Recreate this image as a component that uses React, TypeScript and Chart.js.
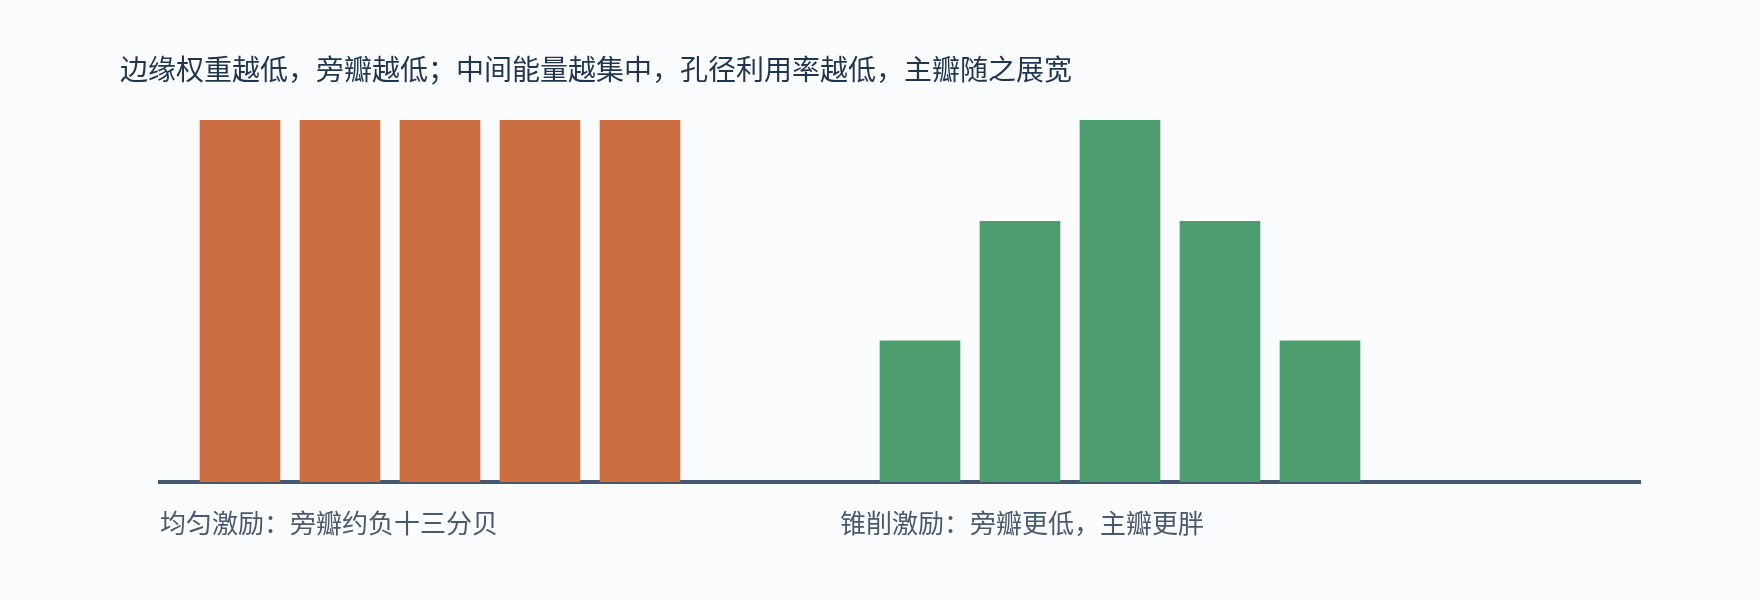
import { useEffect, useRef } from "react";
import { Chart, registerables } from "chart.js";

Chart.register(...registerables);

const title = "边缘权重越低，旁瓣越低；中间能量越集中，孔径利用率越低，主瓣随之展宽";

// element positions (in element spacing units) and weights
const uniformPos = [1, 2, 3, 4, 5];
const uniformWeights = [1, 1, 1, 1, 1];
const taperPos = [7.8, 8.8, 9.8, 10.8, 11.8];
const taperWeights = [0.39, 0.72, 1, 0.72, 0.39];

// group captions sit under the start of each group
const groupLabels = ["均匀激励：旁瓣约负十三分贝", "锥削激励：旁瓣更低，主瓣更胖"];
const groupLabelPos = [0.2, 7.0];

const FONT = '"Noto Sans CJK SC", "Noto Sans", sans-serif';

export default function App() {
  const chartRef = useRef<HTMLCanvasElement>(null);
  const chartInstance = useRef<Chart | null>(null);

  useEffect(() => {
    document.body.style.margin = "0";
    document.body.style.background = "#fbfcfe";
    if (!chartRef.current) return;

    if (chartInstance.current) {
      chartInstance.current.destroy();
    }

    const ctx = chartRef.current.getContext("2d");
    if (!ctx) return;

    chartInstance.current = new Chart(ctx, {
      type: "bar",
      data: {
        datasets: [
          {
            label: "uniform",
            data: uniformPos.map((x, i) => ({ x, y: uniformWeights[i] })),
            backgroundColor: "#cb6f40",
            borderWidth: 0,
            barThickness: 80,
            grouped: false,
          },
          {
            label: "taper",
            data: taperPos.map((x, i) => ({ x, y: taperWeights[i] })),
            backgroundColor: "#4e9d6f",
            borderWidth: 0,
            barThickness: 80,
            grouped: false,
          },
        ],
      },
      options: {
        responsive: true,
        maintainAspectRatio: false,
        animation: false,
        layout: {
          padding: { left: 160, right: 120, top: 120, bottom: 34.8 },
        },
        plugins: {
          legend: { display: false },
          tooltip: { enabled: false },
        },
        scales: {
          x: {
            type: "linear",
            min: 0.2,
            max: 15,
            offset: false,
            grid: { display: false, drawTicks: false, offset: false },
            border: { display: true, color: "#45586f", width: 4 },
            afterBuildTicks: (scale: any) => {
              scale.ticks = groupLabelPos.map((value) => ({ value }));
            },
            ticks: {
              align: "start",
              padding: 26,
              autoSkip: false,
              maxRotation: 0,
              color: "#4a5a6e",
              font: { family: FONT, size: 26 },
              callback: (_v: any, i: number) => groupLabels[i],
            },
          },
          y: {
            display: false,
            min: 0,
            max: 1,
          },
        },
      },
    });

    return () => {
      if (chartInstance.current) {
        chartInstance.current.destroy();
        chartInstance.current = null;
      }
    };
  }, []);

  return (
    <div style={{ position: "relative", width: 1760, height: 600, background: "#fbfcfe" }}>
      <div
        style={{
          position: "absolute",
          left: 120,
          top: 54,
          fontFamily: FONT,
          fontSize: 28,
          lineHeight: "28px",
          color: "#1f3550",
          whiteSpace: "nowrap",
        }}
      >
        {title}
      </div>
      <canvas ref={chartRef}></canvas>
    </div>
  );
}
